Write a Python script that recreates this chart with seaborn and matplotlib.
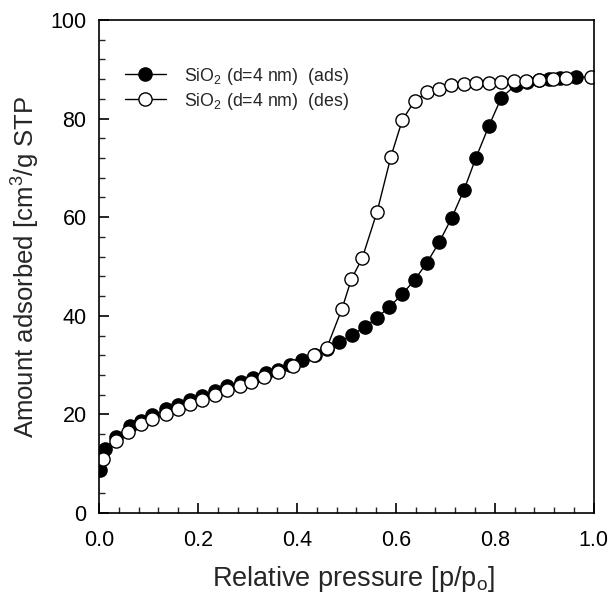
import matplotlib
matplotlib.use("Agg")
import matplotlib.pyplot as plt
import seaborn as sns
import pandas as pd
from matplotlib.ticker import MultipleLocator, FormatStrFormatter

ads_x = [0.002, 0.013, 0.035, 0.062, 0.084, 0.108, 0.135, 0.159, 0.184, 0.209, 0.234,
         0.259, 0.286, 0.312, 0.337, 0.361, 0.386, 0.411, 0.436, 0.460, 0.485, 0.512,
         0.537, 0.562, 0.587, 0.613, 0.638, 0.663, 0.688, 0.713, 0.738, 0.762, 0.788,
         0.813, 0.842, 0.865, 0.890, 0.910, 0.932, 0.965]
ads_y = [8.8, 12.9, 15.5, 17.6, 18.6, 19.8, 21.0, 21.9, 22.9, 23.8, 24.7,
         25.7, 26.5, 27.3, 28.3, 29.1, 30.0, 31.0, 32.0, 33.2, 34.6, 36.1,
         37.8, 39.6, 41.8, 44.4, 47.3, 50.8, 55.0, 59.9, 65.6, 72.1, 78.5,
         84.2, 86.8, 87.5, 87.8, 88.0, 88.2, 88.5]

des_x = [0.995, 0.943, 0.918, 0.889, 0.864, 0.838, 0.813, 0.788, 0.762, 0.737, 0.712,
         0.688, 0.663, 0.638, 0.613, 0.590, 0.562, 0.532, 0.510, 0.491, 0.460, 0.434,
         0.392, 0.361, 0.334, 0.308, 0.285, 0.259, 0.234, 0.209, 0.184, 0.159, 0.135,
         0.108, 0.085, 0.059, 0.034, 0.009]
des_y = [88.5, 88.2, 88.0, 87.8, 87.6, 87.6, 87.4, 87.3, 87.2, 87.0, 86.8,
         86.1, 85.3, 83.6, 79.7, 72.3, 61.1, 51.7, 47.4, 41.4, 33.4, 32.0,
         29.8, 28.7, 27.6, 26.5, 25.8, 24.9, 24.0, 23.0, 22.1, 21.1, 20.1,
         19.1, 18.0, 16.4, 14.7, 11.0]

ads_label = r"SiO$_2$ (d=4 nm)  (ads)"
des_label = r"SiO$_2$ (d=4 nm)  (des)"

sns.set_style("ticks")
plt.rcParams['font.family'] = ['Liberation Sans', 'DejaVu Sans']
plt.rcParams['mathtext.fontset'] = 'custom'
plt.rcParams['mathtext.rm'] = 'Liberation Sans'
plt.rcParams['mathtext.it'] = 'Liberation Sans:italic'

fig = plt.figure(figsize=(6.09, 5.96), dpi=100)
ax = fig.add_axes([0.1626, 0.1393, 0.8124, 0.8271])

df_ads = pd.DataFrame({"x": ads_x, "y": ads_y})
df_des = pd.DataFrame({"x": des_x, "y": des_y})

sns.lineplot(data=df_ads, x="x", y="y", ax=ax, color="black", linewidth=1.0,
             marker="o", markersize=9.5, markerfacecolor="black",
             markeredgecolor="black", markeredgewidth=1.0, label=ads_label, sort=True)
sns.lineplot(data=df_des, x="x", y="y", ax=ax, color="black", linewidth=1.0,
             marker="o", markersize=9.5, markerfacecolor="white",
             markeredgecolor="black", markeredgewidth=1.0, label=des_label, sort=True)

ax.set_xlim(0, 1.0)
ax.set_ylim(0, 100)
ax.xaxis.set_major_locator(MultipleLocator(0.2))
ax.xaxis.set_minor_locator(MultipleLocator(0.04))
ax.yaxis.set_major_locator(MultipleLocator(20))
ax.yaxis.set_minor_locator(MultipleLocator(4))
ax.xaxis.set_major_formatter(FormatStrFormatter('%.1f'))
ax.yaxis.set_major_formatter(FormatStrFormatter('%d'))

ax.tick_params(which="major", direction="in", length=7, width=1.2, labelsize=15.5,
               top=False, right=False, colors="black")
ax.tick_params(axis="x", which="major", pad=12.5)
ax.tick_params(axis="y", which="major", pad=9)
ax.tick_params(which="minor", direction="in", length=4, width=1.0, top=False, right=False)
for s in ax.spines.values():
    s.set_linewidth(1.2)
    s.set_color("black")

ax.set_xlabel(r"Relative pressure [p/p$_\mathregular{o}$]", fontsize=19.5)
ax.xaxis.set_label_coords(0.515, -0.104)
ax.set_ylabel(r"Amount adsorbed [cm$^\mathregular{3}$/g STP", fontsize=18.5, labelpad=6)

leg = ax.legend(loc="upper left", bbox_to_anchor=(0.02, 0.94), frameon=False,
                fontsize=12.8, handlelength=2.3, handletextpad=1.0, labelspacing=0.22)

fig.savefig("out.png", dpi=100)
